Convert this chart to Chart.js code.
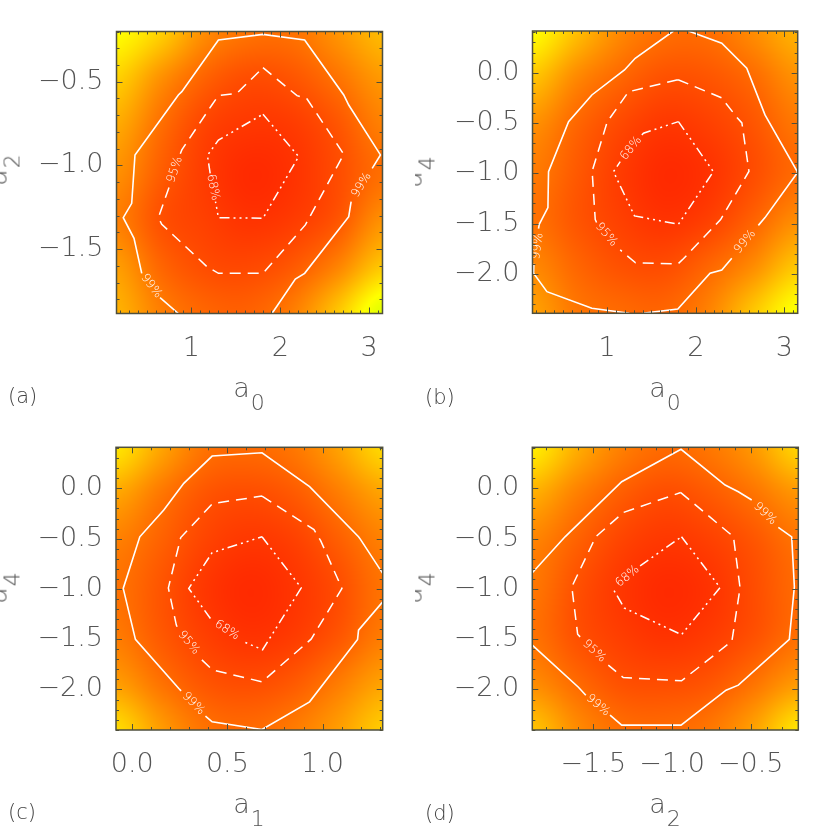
<!DOCTYPE html>
<html>
<head>
<meta charset="utf-8">
<script src="https://cdn.jsdelivr.net/npm/chart.js@4.4.1/dist/chart.umd.min.js"></script>
<style>
html,body{margin:0;padding:0;background:#fff;width:830px;height:830px;overflow:hidden;}
.panel{position:absolute;width:415px;height:415px;overflow:hidden;}
.panel canvas{position:absolute;left:0;top:0;}
.t{position:absolute;font-family:"DejaVu Sans",sans-serif;font-weight:200;color:#555;white-space:nowrap;line-height:1;}
.t sub{font-size:22px;vertical-align:baseline;position:relative;top:13px;margin-left:1px;line-height:1;}
.xt{font-size:27px;transform:translateX(-50%);}
.yt{font-size:27px;transform:translate(-50%,-50%) rotate(-90deg);}
.lab{font-size:21px;color:#444;}
</style>
</head>
<body>
<div class="panel" style="left:0;top:0">
  <canvas id="ca" width="415" height="415"></canvas>
  <div class="t lab" style="left:8px;top:386px">(a)</div>
  <div class="t xt" style="left:249px;top:374px">a<sub>0</sub></div>
  <div class="t yt" style="left:-3px;top:170px">a<sub>2</sub></div>
</div>
<div class="panel" style="left:415px;top:0">
  <canvas id="cb" width="415" height="415"></canvas>
  <div class="t lab" style="left:10px;top:387px">(b)</div>
  <div class="t xt" style="left:250px;top:374px">a<sub>0</sub></div>
  <div class="t yt" style="left:-3px;top:172px">a<sub>4</sub></div>
</div>
<div class="panel" style="left:0;top:415px">
  <canvas id="cc" width="415" height="415"></canvas>
  <div class="t lab" style="left:8px;top:387px">(c)</div>
  <div class="t xt" style="left:249px;top:375px">a<sub>1</sub></div>
  <div class="t yt" style="left:-3px;top:173px">a<sub>4</sub></div>
</div>
<div class="panel" style="left:415px;top:415px">
  <canvas id="cd" width="415" height="415"></canvas>
  <div class="t lab" style="left:10px;top:388px">(d)</div>
  <div class="t xt" style="left:250px;top:375px">a<sub>2</sub></div>
  <div class="t yt" style="left:-3px;top:173px">a<sub>4</sub></div>
</div>

<script>
// ---------------- DATA ----------------
// Panel (a): a0 vs a2
const A_XRANGE = [0.157, 3.15];
const A_YRANGE = [-1.884, -0.2];
const A_XTICKS = [1, 2, 3];
const A_XLABELS = ['1', '2', '3'];
const A_YTICKS = [-1.5, -1.0, -0.5];
const A_YLABELS = ['\u22121.5', '\u22121.0', '\u22120.5'];
const A_C99 = [[0.853,-1.884],[0.647,-1.789],null,[0.441,-1.644],[0.354,-1.435],[0.233,-1.312],[0.328,-1.226],[0.365,-0.937],[0.853,-0.579],[0.892,-0.559],[1.304,-0.251],[1.805,-0.217],[2.274,-0.251],[2.714,-0.579],[2.770,-0.639],[3.127,-0.937],[3.034,-1.017],null,[2.797,-1.216],[2.770,-1.306],[2.274,-1.644],[2.169,-1.678],[1.906,-1.884]];
const A_C95 = [[1.805,-0.416],[2.188,-0.583],[2.301,-0.603],[2.714,-0.933],[2.282,-1.355],[1.805,-1.644],[1.304,-1.644],[1.174,-1.604],[0.666,-1.351],[0.628,-1.312],[0.755,-1.12],null,[0.875,-0.93],[0.892,-0.907],[1.230,-0.639],[1.304,-0.583],[1.512,-0.569],[1.805,-0.416]];
const A_C68 = [[1.805,-0.694],[2.206,-0.947],[1.805,-1.315],[1.304,-1.312],[1.271,-1.216],null,[1.211,-1.047],[1.18,-0.94],[1.304,-0.848],[1.805,-0.694]];
const A_LABELS = [['99%',0.548,-1.72,53],['99%',2.915,-1.117,-58],['95%',0.815,-1.025,-72],['68%',1.241,-1.13,79]];
const A_HUE = [
  [60,49,33,27,27,35,44],
  [49,34,23,18,20,27,36],
  [40,26,16,13,14,20,30],
  [34,22,14,10,12,18,26],
  [30,19,15,12,14,20,34],
  [37,24,18,17,21,31,47],
  [42,30,24,23,30,47,68]
];

// Panel (b): a0 vs a4
const B_XRANGE = [0.157, 3.15];
const B_YRANGE = [-2.392, 0.414];
const B_XTICKS = [1, 2, 3];
const B_XLABELS = ['1', '2', '3'];
const B_YTICKS = [-2.0, -1.5, -1.0, -0.5, 0.0];
const B_YLABELS = ['\u22122.0', '\u22121.5', '\u22121.0', '\u22120.5', '0.0'];
const B_C99 = [[1.748,0.414],[1.316,0.143],[1.195,0.027],[0.827,-0.222],[0.564,-0.487],[0.338,-0.984],[0.331,-1.342],[0.233,-1.507],[0.225,-1.55],null,[0.172,-1.90],[0.169,-1.994],[0.320,-2.177],[0.827,-2.342],[1.25,-2.392],null,[1.40,-2.392],[1.797,-2.349],[2.161,-1.994],[2.293,-1.961],[2.406,-1.845],null,[2.706,-1.518],[2.781,-1.441],[3.15,-0.99],[2.781,-0.420],[2.575,0.044],[2.293,0.292],[1.917,0.414]];
const B_C95 = [[1.80,-0.07],[2.29,-0.25],[2.46,-0.44],[2.52,-0.50],[2.60,-0.98],[2.28,-1.46],[1.86,-1.85],[1.80,-1.90],[1.32,-1.89],[1.147,-1.762],null,[0.88,-1.49],[0.865,-1.46],[0.83,-0.98],[1.00,-0.49],[1.24,-0.19],[1.38,-0.16],[1.80,-0.07]];
const B_C68 = [[1.804,-0.487],[2.198,-0.984],[1.804,-1.507],[1.308,-1.424],[1.071,-0.984],[1.147,-0.885],null,[1.391,-0.619],[1.409,-0.602],[1.804,-0.487]];
const B_LABELS = [['99%',0.215,-1.725,-82],['99%',2.556,-1.68,-51],['95%',0.99,-1.61,49],['68%',1.27,-0.752,-51]];
const B_HUE = [
  [60,45,32,26,26,33,42],
  [46,32,24,19,20,25,34],
  [34,24,17,13,15,20,28],
  [29,21,14,10,12,18,25],
  [27,20,15,12,15,23,33],
  [32,24,19,18,24,33,47],
  [38,28,25,24,31,47,62]
];

// Panel (c): a1 vs a4
const C_XRANGE = [-0.085, 1.316];
const C_YRANGE = [-2.403, 0.408];
const C_XTICKS = [0.0, 0.5, 1.0];
const C_XLABELS = ['0.0', '0.5', '1.0'];
const C_YTICKS = [-2.0, -1.5, -1.0, -0.5, 0.0];
const C_YLABELS = ['\u22122.0', '\u22121.5', '\u22121.0', '\u22120.5', '0.0'];
const C_C99 = [[1.316,-1.128],[1.189,-1.41],[1.184,-1.502],[0.932,-2.123],[0.682,-2.398],[0.420,-2.322],[0.385,-2.266],null,[0.257,-2.014],[0.245,-1.99],[0.017,-1.502],[-0.047,-0.995],[0.040,-0.482],[0.166,-0.216],[0.271,0.05],[0.420,0.321],[0.682,0.354],[0.932,0.016],[1.189,-0.482],[1.20,-0.51],[1.316,-0.846]];
const C_C95 = [[0.682,-0.077],[0.955,-0.41],[0.99,-0.52],[1.102,-0.995],[0.94,-1.50],[0.682,-1.924],[0.422,-1.805],[0.358,-1.692],null,[0.236,-1.377],[0.232,-1.36],[0.19,-0.99],[0.255,-0.49],[0.422,-0.152],[0.682,-0.077]];
const C_C68 = [[0.682,-0.482],[0.888,-0.99],[0.685,-1.605],[0.586,-1.526],null,[0.411,-1.294],[0.297,-0.995],[0.42,-0.64],[0.682,-0.482]];
const C_LABELS = [['99%',0.321,-2.14,46],['95%',0.297,-1.535,50],['68%',0.498,-1.41,33]];
const C_HUE = [
  [54,39,27,25,28,38,51],
  [39,28,20,18,21,29,38],
  [30,23,16,13,15,22,30],
  [27,20,13,10,12.5,18,27],
  [29,21,15,12,14,20,29],
  [37,27,20,18,21,29,38],
  [52,37,27,25,29,37,48]
];

// Panel (d): a2 vs a4
const D_XRANGE = [-1.888, -0.198];
const D_YRANGE = [-2.403, 0.408];
const D_XTICKS = [-1.5, -1.0, -0.5];
const D_XLABELS = ['\u22121.5', '\u22121.0', '\u22120.5'];
const D_YTICKS = [-2.0, -1.5, -1.0, -0.5, 0.0];
const D_YLABELS = ['\u22122.0', '\u22121.5', '\u22121.0', '\u22120.5', '0.0'];
const D_C99 = [[-1.888,-0.840],[-1.680,-0.482],[-1.320,0.066],[-0.943,0.388],[-0.663,0.033],[-0.579,-0.034],[-0.494,-0.116],null,[-0.325,-0.388],[-0.240,-0.482],[-0.223,-0.979],[-0.255,-1.502],[-0.579,-1.957],[-0.657,-2.007],[-0.943,-2.355],[-1.320,-2.355],[-1.394,-2.256],null,[-1.548,-2.057],[-1.595,-1.978],[-1.888,-1.559]];
const D_C95 = [[-0.945,-0.042],[-0.61,-0.481],[-0.568,-0.99],[-0.62,-1.52],[-0.94,-1.914],[-1.31,-1.881],[-1.405,-1.758],null,[-1.584,-1.477],[-1.60,-1.45],[-1.637,-0.979],[-1.485,-0.482],[-1.309,-0.24],[-0.945,-0.042]];
const D_C68 = [[-0.94,-0.482],[-0.695,-0.987],[-0.94,-1.455],[-1.304,-1.19],[-1.37,-1.012],[-1.362,-0.979],null,[-1.203,-0.77],[-0.94,-0.482]];
const D_LABELS = [['99%',-0.41,-0.252,44],['99%',-1.471,-2.157,40],['95%',-1.495,-1.618,43],['68%',-1.283,-0.875,-40]];
const D_HUE = [
  [56,41,30,25,28,36,50],
  [41,30,22,18,21,27,35],
  [31,23,16,13,15,20,27],
  [28,19,13,10,12,18,25],
  [27,19,14.5,12,14,19,26],
  [33,25,19,18,20,27,36],
  [46,33,26,25,28,38,54]
];

const MINOR_STEP = 0.1;

// ---------------- RENDERING ----------------
function toPts(arr){ return arr.map(p => p ? {x:p[0], y:p[1]} : {x:null, y:null}); }

function cr(p0,p1,p2,p3,t){
  return 0.5*((2*p1)+(-p0+p2)*t+(2*p0-5*p1+4*p2-p3)*t*t+(-p0+3*p1-3*p2+p3)*t*t*t);
}
function sampleGrid(g, fx, fy){
  const n = g[0].length, m = g.length;
  const ix = Math.min(Math.max(Math.floor(fx),0),n-2), iy = Math.min(Math.max(Math.floor(fy),0),m-2);
  const tx = fx-ix, ty = fy-iy;
  const cl = (v,a) => Math.min(Math.max(v,0),a-1);
  const rows = [];
  for (let k=-1;k<=2;k++){
    const r = g[cl(iy+k,m)];
    rows.push(cr(r[cl(ix-1,n)], r[cl(ix,n)], r[cl(ix+1,n)], r[cl(ix+2,n)], tx));
  }
  return cr(rows[0],rows[1],rows[2],rows[3],ty);
}
function hueRGB(h){
  h = Math.min(Math.max(h,0),120);
  if (h < 60) return [255, Math.round(255*h/60), 0];
  return [Math.round(255*(120-h)/60), 255, 0];
}

const heatPlugin = {
  id:'heat',
  beforeDatasetsDraw(chart){
    const cfg = chart.config.options.plugins.heat;
    const a = chart.chartArea, xs = chart.scales.x, ys = chart.scales.y;
    const x0 = Math.floor(a.left), y0 = Math.floor(a.top);
    const w = Math.ceil(a.right) - x0, h = Math.ceil(a.bottom) - y0;
    const img = chart.ctx.createImageData(w, h);
    const g = cfg.hue, n = g[0].length, m = g.length;
    const [xmin,xmax] = cfg.xr, [ymin,ymax] = cfg.yr;
    for (let j=0;j<h;j++){
      const yv = ys.getValueForPixel(y0+j+0.5);
      const fy = (ymax - yv)/(ymax-ymin)*(m-1);
      for (let i=0;i<w;i++){
        const xv = xs.getValueForPixel(x0+i+0.5);
        const fx = (xv - xmin)/(xmax-xmin)*(n-1);
        const c = hueRGB(sampleGrid(g, fx, fy));
        const k = (j*w+i)*4;
        img.data[k]=c[0]; img.data[k+1]=c[1]; img.data[k+2]=c[2]; img.data[k+3]=255;
      }
    }
    chart.ctx.putImageData(img, x0, y0);
  }
};

const labelPlugin = {
  id:'clabels',
  afterDatasetsDraw(chart){
    const cfg = chart.config.options.plugins.clabels;
    const ctx = chart.ctx, xs = chart.scales.x, ys = chart.scales.y;
    ctx.save();
    ctx.fillStyle = '#ffffff';
    ctx.font = '300 12px "DejaVu Sans"';
    ctx.textAlign = 'center';
    ctx.textBaseline = 'middle';
    cfg.items.forEach(([txt,x,y,ang]) => {
      ctx.save();
      ctx.translate(xs.getPixelForValue(x), ys.getPixelForValue(y));
      ctx.rotate(ang*Math.PI/180);
      ctx.fillText(txt, 0, 0);
      ctx.restore();
    });
    ctx.restore();
  }
};

function tickVals(min,max,step){
  const out=[];
  for (let k=Math.ceil(min/step-1e-9); k*step<=max+1e-9; k++) out.push(+(k*step).toFixed(6));
  return out;
}
const framePlugin = {
  id:'frame',
  afterDraw(chart){
    const cfg = chart.config.options.plugins.frame;
    const ctx = chart.ctx, a = chart.chartArea, xs = chart.scales.x, ys = chart.scales.y;
    ctx.save();
    ctx.strokeStyle = '#4f4f3c';
    ctx.lineWidth = 1;
    ctx.beginPath();
    tickVals(xs.min, xs.max, MINOR_STEP).forEach(v => {
      const major = cfg.xt.some(t => Math.abs(t-v)<1e-6);
      const len = major ? 6 : 3;
      const p = Math.round(xs.getPixelForValue(v))+0.5;
      ctx.moveTo(p, a.bottom); ctx.lineTo(p, a.bottom-len);
      ctx.moveTo(p, a.top); ctx.lineTo(p, a.top+len);
    });
    tickVals(ys.min, ys.max, MINOR_STEP).forEach(v => {
      const major = cfg.yt.some(t => Math.abs(t-v)<1e-6);
      const len = major ? 6 : 3;
      const p = Math.round(ys.getPixelForValue(v))+0.5;
      ctx.moveTo(a.left, p); ctx.lineTo(a.left+len, p);
      ctx.moveTo(a.right, p); ctx.lineTo(a.right-len, p);
    });
    ctx.stroke();
    ctx.lineWidth = 1.5;
    ctx.strokeRect(a.left, a.top, a.right-a.left, a.bottom-a.top);
    ctx.restore();
  }
};

const TICK_FONT = {family:'"DejaVu Sans"', size:27, weight:200};

function makePanel(id, L, R, T, B, xr, yr, xt, xl, yt, yl, hue, c99, c95, c68, labels){
  const line = {showLine:true, borderColor:'#ffffff', pointRadius:0, pointHoverRadius:0, tension:0, spanGaps:false};
  new Chart(document.getElementById(id), {
    type:'scatter',
    data:{datasets:[
      Object.assign({data:toPts(c99), borderWidth:1.6}, line),
      Object.assign({data:toPts(c95), borderWidth:1.5, borderDash:[11,7]}, line),
      Object.assign({data:toPts(c68), borderWidth:1.5, borderDash:[10,4,2,4,2,4,2,4]}, line)
    ]},
    options:{
      responsive:false, animation:false, devicePixelRatio:1,
      layout:{padding:{left:0, top:T, right:415-R, bottom:0}},
      events:[],
      plugins:{
        legend:{display:false}, tooltip:{enabled:false},
        heat:{hue:hue, xr:xr, yr:yr},
        clabels:{items:labels},
        frame:{xt:xt, yt:yt}
      },
      scales:{
        x:{type:'linear', position:'bottom', min:xr[0], max:xr[1],
           afterFit:s=>{ s.height = 415 - B; },
           afterBuildTicks:s=>{ s.ticks = xt.map(v=>({value:v})); },
           ticks:{autoSkip:false, maxRotation:0, minRotation:0, padding:19, color:'#555', font:TICK_FONT,
                  callback:(v,i)=>xl[i]},
           grid:{display:false, drawTicks:false}, border:{display:false}},
        y:{type:'linear', position:'left', min:yr[0], max:yr[1],
           afterFit:s=>{ s.width = L; },
           afterBuildTicks:s=>{ s.ticks = yt.map(v=>({value:v})); },
           ticks:{autoSkip:false, padding:13, color:'#555', font:TICK_FONT,
                  callback:(v,i)=>yl[i]},
           grid:{display:false, drawTicks:false}, border:{display:false}}
      }
    },
    plugins:[heatPlugin, labelPlugin, framePlugin]
  });
}

makePanel('ca', 116.5, 382.5, 31.5, 313.5, A_XRANGE, A_YRANGE, A_XTICKS, A_XLABELS, A_YTICKS, A_YLABELS, A_HUE, A_C99, A_C95, A_C68, A_LABELS);
makePanel('cb', 117.5, 382.7, 31, 313.3, B_XRANGE, B_YRANGE, B_XTICKS, B_XLABELS, B_YTICKS, B_YLABELS, B_HUE, B_C99, B_C95, B_C68, B_LABELS);
makePanel('cc', 116, 382.7, 32.3, 315, C_XRANGE, C_YRANGE, C_XTICKS, C_XLABELS, C_YTICKS, C_YLABELS, C_HUE, C_C99, C_C95, C_C68, C_LABELS);
makePanel('cd', 117.3, 383.3, 32.3, 315, D_XRANGE, D_YRANGE, D_XTICKS, D_XLABELS, D_YTICKS, D_YLABELS, D_HUE, D_C99, D_C95, D_C68, D_LABELS);
</script>
</body>
</html>
